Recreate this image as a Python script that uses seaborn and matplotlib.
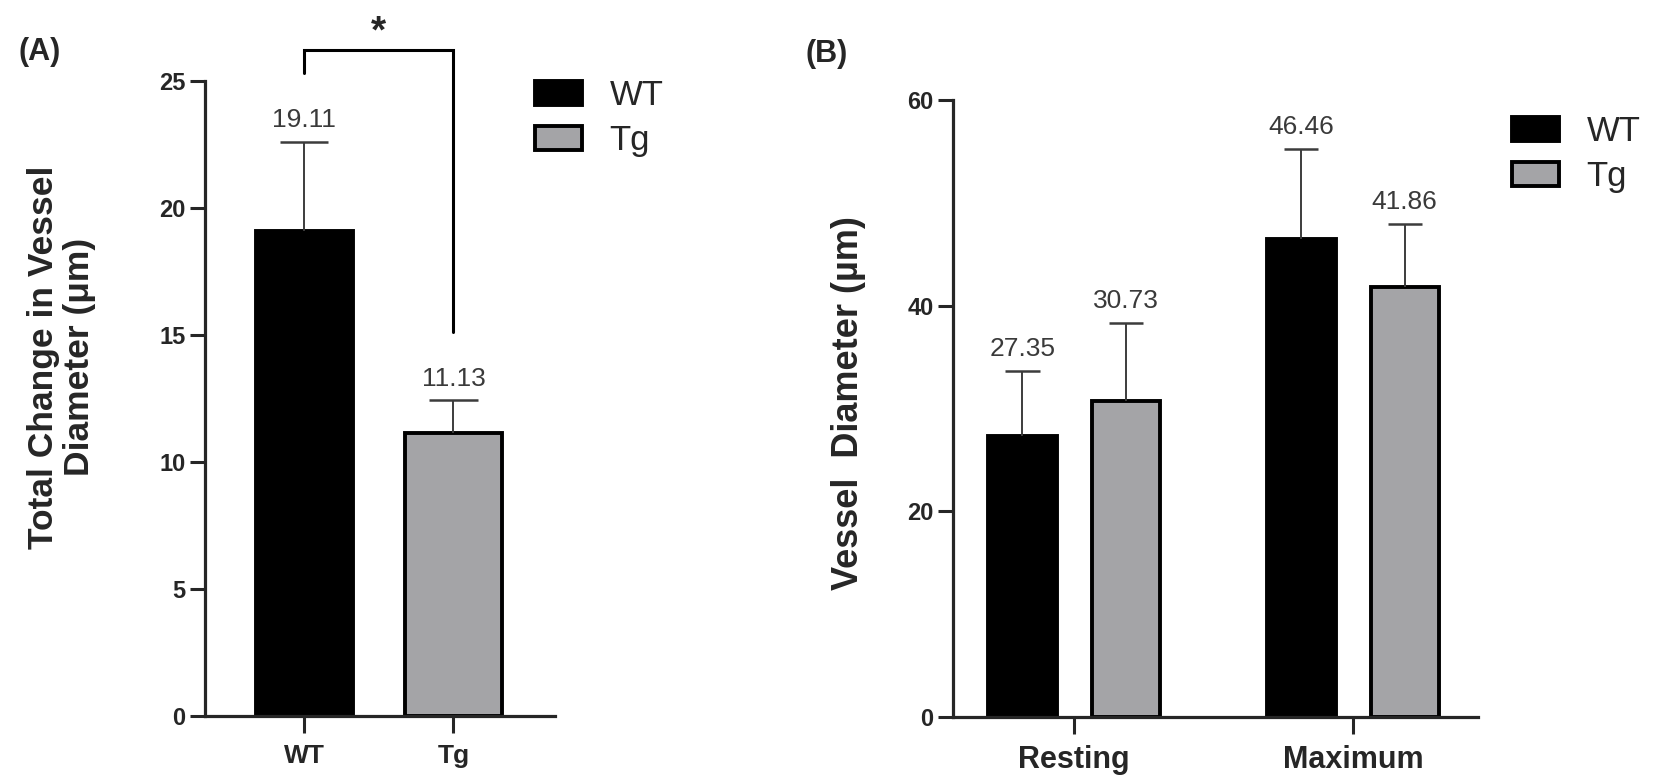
import matplotlib
matplotlib.use("Agg")
import matplotlib.pyplot as plt
import pandas as pd
import seaborn as sns

# panel A: total change in vessel diameter
genotypes = ["WT", "Tg"]
change_mean = [19.11, 11.13]
change_sem = [3.5, 1.3]

# panel B: vessel diameter, resting vs maximum
conditions = ["Resting", "Maximum"]
wt_mean = [27.35, 46.46]
wt_sem = [6.3, 8.8]
tg_mean = [30.73, 41.86]
tg_sem = [7.6, 6.1]

palette = {"WT": "#000000", "Tg": "#a3a3a8"}

sns.set_style("ticks")
plt.rcParams["font.family"] = ["Liberation Sans", "DejaVu Sans"]

df_a = pd.DataFrame({"genotype": genotypes, "value": change_mean, "sem": change_sem})
df_b = pd.DataFrame({
    "condition": conditions * 2,
    "genotype": ["WT"] * 2 + ["Tg"] * 2,
    "value": wt_mean + tg_mean,
    "sem": wt_sem + tg_sem,
})

fig = plt.figure(figsize=(16.54, 7.83), dpi=100)
ax_a = fig.add_axes([0.1239, 0.0856, 0.2116, 0.811])
ax_b = fig.add_axes([0.5762, 0.0843, 0.3174, 0.788])

sns.barplot(data=df_a, x="genotype", y="value", hue="genotype", order=genotypes,
            hue_order=genotypes, palette=palette, width=0.65, errorbar=None,
            edgecolor="black", linewidth=2.8, legend=False, ax=ax_a)
sns.barplot(data=df_b, x="condition", y="value", hue="genotype", order=conditions,
            hue_order=genotypes, palette=palette, width=0.74, gap=0.34, errorbar=None,
            edgecolor="black", linewidth=2.8, legend=False, ax=ax_b)


def add_errors(ax, frame):
    # upward-only error bars + value labels, placed on the drawn bars
    for cont, gen in zip(ax.containers, genotypes):
        sub = frame[frame["genotype"] == gen]
        for bar, val, err in zip(cont, sub["value"], sub["sem"]):
            cx = bar.get_x() + bar.get_width() / 2
            half = bar.get_width() / 4
            ax.vlines(cx, val, val + err, color="#3c3c3c", lw=1.4, zorder=1)
            ax.hlines(val + err, cx - half, cx + half, color="#3c3c3c", lw=1.8, zorder=3)
            ax.annotate(f"{val:.2f}", (cx, val + err), xytext=(0, 7),
                        textcoords="offset points", ha="center", va="bottom",
                        fontsize=19, color="#3a3a3a")


add_errors(ax_a, df_a)
add_errors(ax_b, df_b)

legend_spots = {ax_a: (0.3235, 0.899), ax_b: (0.914, 0.853)}
for ax in (ax_a, ax_b):
    sns.despine(ax=ax)
    for side in ("left", "bottom"):
        ax.spines[side].set_linewidth(2.3)
    ax.tick_params(axis="y", length=11, width=2.2, labelsize=17, pad=3)
    ax.tick_params(axis="x", length=12, width=2.2, pad=8)
    ax.set_xlabel("")
    handles = [c[0] for c in ax.containers]
    ax.legend(handles, genotypes, frameon=False, fontsize=25, handlelength=1.35,
              handleheight=0.66, handletextpad=0.8, labelspacing=0.35, borderpad=0,
              borderaxespad=0, loc="upper left", bbox_transform=fig.transFigure,
              bbox_to_anchor=legend_spots[ax])

ax_a.set_ylim(0, 25)
ax_a.set_yticks([0, 5, 10, 15, 20, 25])
ax_a.set_xlim(-0.664, 1.68)
ax_a.tick_params(axis="x", labelsize=19)
ax_b.set_ylim(0, 60)
ax_b.set_yticks([0, 20, 40, 60])
ax_b.set_xlim(-0.434, 1.448)
ax_b.tick_params(axis="x", labelsize=22)
for ax in (ax_a, ax_b):
    for t in ax.get_xticklabels() + ax.get_yticklabels():
        t.set_fontweight("bold")

ax_a.set_ylabel("Total Change in Vessel\nDiameter (\u03bcm)", fontsize=25.5,
                fontweight="bold", va="center", linespacing=1.1)
ax_a.yaxis.set_label_coords(-0.41, 0.565)
ax_b.set_ylabel("Vessel  Diameter (\u00b5m)", fontsize=26, fontweight="bold", va="center")
ax_b.yaxis.set_label_coords(-0.2, 0.509)

# significance bracket between WT and Tg
sig_y, left_end, right_end = 26.2, 25.3, 15.1
ax_a.plot([0, 0, 1, 1], [left_end, sig_y, sig_y, right_end], color="black",
          lw=2.2, clip_on=False, solid_joinstyle="miter")
ax_a.text(0.5, sig_y, "*", ha="center", va="bottom", fontsize=28,
          fontweight="bold", clip_on=False)

fig.text(0.024, 0.934, "(A)", ha="center", va="center", fontsize=22, fontweight="bold")
fig.text(0.5, 0.931, "(B)", ha="center", va="center", fontsize=22, fontweight="bold")

fig.savefig("out.png", dpi=100, facecolor="white")
